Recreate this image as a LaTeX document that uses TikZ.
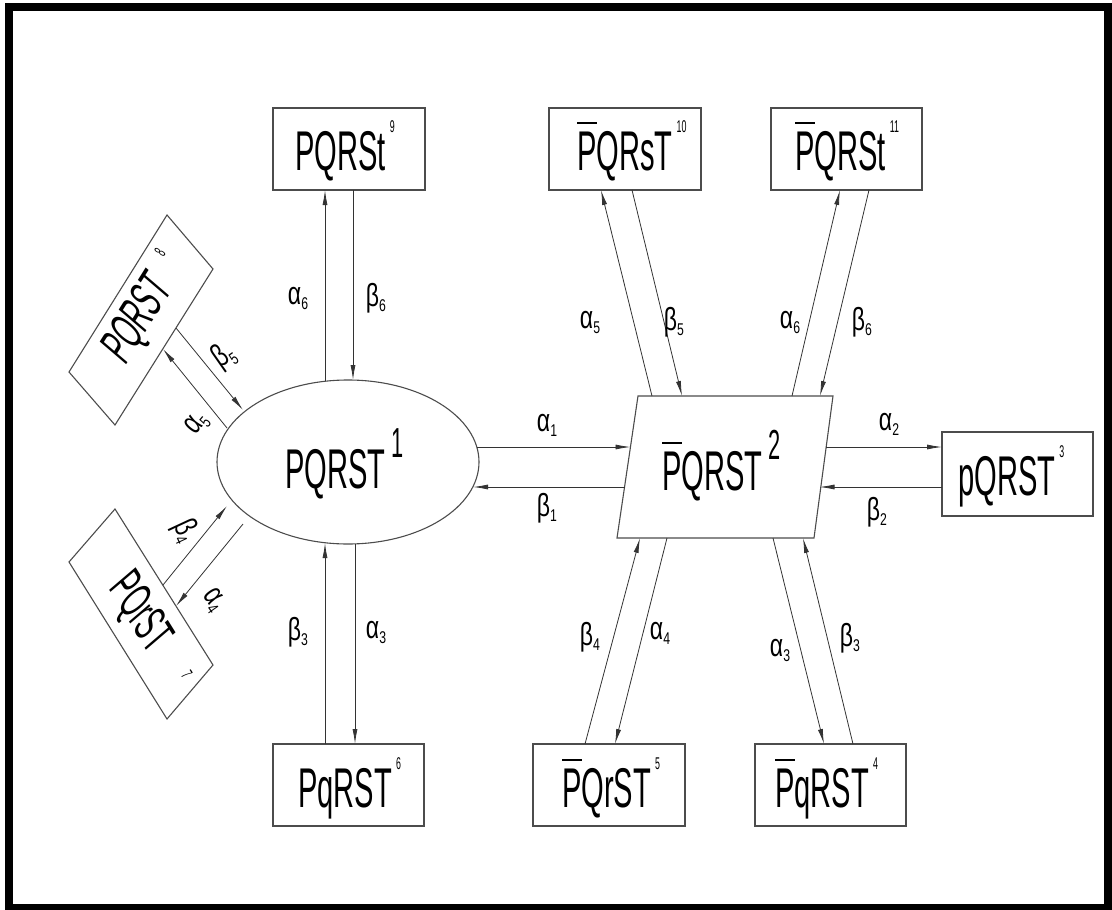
\documentclass[tikz,border=0pt]{standalone}
\usepackage{fontspec}
\setmainfont{Liberation Sans}
\newfontfamily\cnd[FakeStretch=0.52]{Liberation Sans}
\newfontfamily\lbf[FakeStretch=0.72]{Liberation Sans}
\usetikzlibrary{arrows.meta,shapes.geometric}
\newcommand\bigtxt{\cnd\fontsize{56}{60}\selectfont}
\newcommand\rottxt{\cnd\fontsize{50}{54}\selectfont}
\newcommand\smtxt{\cnd\fontsize{17}{17}\selectfont}
\newcommand\sps[1]{\hspace{4pt}\raisebox{38pt}{\smtxt #1}}
\newcommand\bsp[1]{\hspace{6pt}\raisebox{31pt}{\cnd\fontsize{42}{42}\selectfont #1}}
\newcommand\Pb{\rlap{\raisebox{46pt}{\rule{20pt}{1.8pt}}}P}
\newcommand\lb[2]{{\lbf\fontsize{32}{32}\selectfont #1\raisebox{-5pt}{\fontsize{17}{17}\selectfont #2}}}
\begin{document}
\begin{tikzpicture}[x=1pt,y=-1pt,
  box/.style={draw=black!70,line width=1.1pt,minimum width=152pt,minimum height=82pt,inner sep=0pt},
  shp/.style={draw=black!70,line width=1.1pt},
  ln/.style={draw=black!80,line width=0.8pt},
  arr/.style={ln,-{Latex[length=15pt,width=5pt]}},
  txt/.style={inner sep=0pt,anchor=base west,font=\bigtxt},
  rtxt/.style={inner sep=0pt,anchor=center,font=\rottxt},
  lab/.style={inner sep=0pt,anchor=center}]
\useasboundingbox (0,0) rectangle (1112,910);
\draw[line width=8pt] (9,7) rectangle (1108,908);
% boxes
\node[box] (b9) at (349,149) {};
\node[box] (b10) at (625,149) {};
\node[box,minimum width=151pt] (b11) at (846.5,149) {};
\node[box,minimum width=151pt,minimum height=84pt] (b3) at (1017.5,474) {};
\node[box,minimum width=151pt] (b6) at (348.5,785) {};
\node[box] (b5) at (609,785) {};
\node[box,minimum width=151pt] (b4) at (830.5,785) {};
\node[shp,ellipse,minimum width=262pt,minimum height=164pt,inner sep=0pt] (e1) at (348,462) {};
\draw[shp] (638,396) coordinate (p2a) -- (833,396) coordinate (p2b) -- (814,538) coordinate (p2c) -- (617,538) coordinate (p2d) -- cycle;
\draw[shp] (167,215) coordinate (b8a) -- (213,269) coordinate (b8b) -- (115,425) coordinate (b8c) -- (69,372) coordinate (b8d) -- cycle;
\draw[shp] (167,719) coordinate (b7a) -- (213,665) coordinate (b7b) -- (115,509) coordinate (b7c) -- (69,562) coordinate (b7d) -- cycle;
% texts
\node[txt] (t9) at (295,170) {PQRSt\sps{9}};
\node[txt] (t10) at (577,170) {\Pb QRsT\sps{10}};
\node[txt] (t11) at (795,170) {\Pb QRSt\sps{11}};
\node[txt] (t1) at (285,488) {PQRST\bsp{1}};
\node[txt] (t2) at (662,490) {\Pb QRST\bsp{2}};
\node[txt] (t3) at (958,495) {pQRST\sps{3}};
\node[txt] (t6) at (298,807) {PqRST\sps{6}};
\node[txt] (t5) at (562,807) {\Pb QrST\sps{5}};
\node[txt] (t4) at (775,807) {\Pb qRST\sps{4}};
\node[rtxt,rotate=58,xslant=0.15] (t8) at (139,320) {PQRST};
\node[inner sep=0pt,font=\smtxt,rotate=58] (s8) at (160,252) {8};
\node[rtxt,rotate=-58,xslant=-0.15] (t7) at (139,614) {PQrST};
\node[inner sep=0pt,font=\smtxt,rotate=-58] (s7) at (187,674) {7};
% coordinates
\path (477,447) coordinate (a1s) (630.5,447) coordinate (a1e)
      (624.5,487) coordinate (b1s) (473,487) coordinate (b1e)
      (825.5,447) coordinate (a2s) (942,447) coordinate (a2e)
      (942,487) coordinate (b2s) (819.5,487) coordinate (b2e)
      (325,381) coordinate (a6s) (325,190) coordinate (a6e)
      (353,190) coordinate (b6s) (353,380) coordinate (b6e)
      (325,744) coordinate (b3s) (325,543) coordinate (b3e)
      (355,544) coordinate (a3s) (355,744) coordinate (a3e)
      (652,396) coordinate (a5s) (601,190) coordinate (a5e)
      (632,190) coordinate (b5s) (682,396) coordinate (b5e)
      (792,396) coordinate (a6rs) (840,190) coordinate (a6re)
      (869,190) coordinate (b6rs) (820,396) coordinate (b6re)
      (585,744) coordinate (b4s) (640,538) coordinate (b4e)
      (667,538) coordinate (a4s) (615,744) coordinate (a4e)
      (773,538) coordinate (a3rs) (824,744) coordinate (a3re)
      (853,744) coordinate (b3rs) (803,538) coordinate (b3re)
      (227,428) coordinate (a5ls) (163,349) coordinate (a5le)
      (176,328) coordinate (b5ls) (243,410) coordinate (b5le)
      (163,585) coordinate (b4ls) (227,506) coordinate (b4le)
      (243,524) coordinate (a4ls) (176,606) coordinate (a4le);
\foreach \s/\e in {a1s/a1e,b1s/b1e,a2s/a2e,b2s/b2e,a6s/a6e,b6s/b6e,b3s/b3e,a3s/a3e,
  a5s/a5e,b5s/b5e,a6rs/a6re,b6rs/b6re,b4s/b4e,a4s/a4e,a3rs/a3re,b3rs/b3re,
  a5ls/a5le,b5ls/b5le,b4ls/b4le,a4ls/a4le}
  \draw[arr] (\s) -- (\e);
% labels
\node[lab] (la1) at (547,425) {\lb{α}{1}};
\node[lab] (lb1) at (547,508) {\lb{β}{1}};
\node[lab] (la2) at (889,424) {\lb{α}{2}};
\node[lab] (lb2) at (877,512) {\lb{β}{2}};
\node[lab] (la6) at (298,298) {\lb{α}{6}};
\node[lab] (lb6) at (376,298) {\lb{β}{6}};
\node[lab] (lb3) at (298,632) {\lb{β}{3}};
\node[lab] (la3) at (376,632) {\lb{α}{3}};
\node[lab] (la5) at (590,322) {\lb{α}{5}};
\node[lab] (lb5) at (674,322) {\lb{β}{5}};
\node[lab] (la6r) at (790,322) {\lb{α}{6}};
\node[lab] (lb6r) at (862,322) {\lb{β}{6}};
\node[lab] (lb4) at (590,637) {\lb{β}{4}};
\node[lab] (la4) at (660,633) {\lb{α}{4}};
\node[lab] (la3r) at (780,650) {\lb{α}{3}};
\node[lab] (lb3r) at (850,638) {\lb{β}{3}};
\node[lab,rotate=50] (la5l) at (197,424) {\lb{α}{5}};
\node[lab,rotate=35] (lb5l) at (224,356) {\lb{β}{5}};
\node[lab,rotate=-65] (lb4l) at (185,531) {\lb{β}{4}};
\node[lab,rotate=-55] (la4l) at (213,600) {\lb{α}{4}};
\end{tikzpicture}
\end{document}
